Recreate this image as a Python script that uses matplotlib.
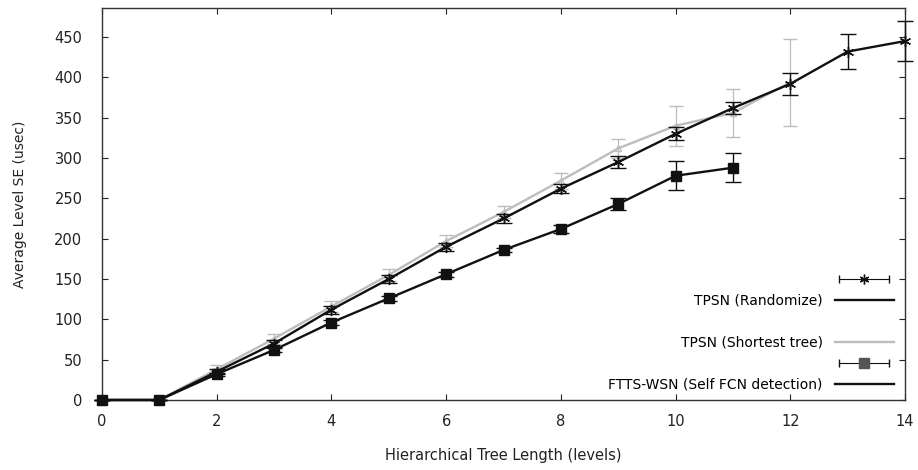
import matplotlib
matplotlib.use("Agg")
import matplotlib.pyplot as plt
import numpy as np
from matplotlib.lines import Line2D
from matplotlib.legend_handler import HandlerLine2D, HandlerTuple

plt.rcParams['font.family'] = ['DejaVu Sans']

# data
levels_rand = np.arange(0, 15)
rand_mean = [0, 0, 35, 70, 112, 150, 190, 225, 262, 295, 330, 362, 392, 432, 445]
rand_err = [0, 0, 3, 4, 5, 5, 5, 5, 6, 7, 8, 8, 14, 22, 25]

levels_short = np.arange(0, 13)
short_mean = [0, 0, 38, 76, 116, 155, 197, 233, 272, 312, 340, 356, 394]
short_err = [0, 0, 5, 6, 7, 7, 7, 7, 10, 12, 25, 30, 54]

levels_ftts = np.arange(0, 12)
ftts_mean = [0, 0, 32, 62, 96, 126, 156, 186, 212, 243, 278, 288]
ftts_err = [0, 0, 2, 2, 3, 3, 3, 3, 5, 8, 18, 18]

x_ticks = np.arange(0, 15, 2)
y_ticks = np.arange(0, 451, 50)

fig = plt.figure(figsize=(9.18, 4.70), dpi=100)
ax = fig.add_axes([0.111, 0.149, 0.875, 0.834])

gray = '#bdbdbd'
ax.errorbar(levels_short, short_mean, yerr=short_err, color=gray, lw=1.7,
            marker='^', ms=5, mfc='none', mec=gray, capsize=5, elinewidth=0.9,
            clip_on=False, zorder=2)
ax.errorbar(levels_rand, rand_mean, yerr=rand_err, color='#111111', lw=1.7,
            marker=(6, 2, 0), ms=8, mew=1.0, capsize=6, elinewidth=1.0,
            clip_on=False, zorder=3)
ax.errorbar(levels_ftts, ftts_mean, yerr=ftts_err, color='#111111', lw=1.7,
            marker='s', ms=7, capsize=6, elinewidth=1.0,
            clip_on=False, zorder=4)

ax.set_xlim(0, 14)
ax.set_ylim(0, 486)
ax.set_xticks(x_ticks)
ax.set_yticks(y_ticks)
ax.tick_params(direction='in', top=True, right=True, length=4, width=0.8,
               labelsize=10.5, colors='#222222')
ax.tick_params(axis='y', pad=14)
ax.tick_params(axis='x', pad=10)
for sp in ax.spines.values():
    sp.set_linewidth(1.0)
    sp.set_color('#333333')

ax.set_xlabel('Hierarchical Tree Length (levels)', fontsize=10.5, color='#222222', labelpad=14)
ax.set_ylabel('Average Level SE (usec)', fontsize=10, color='#222222', labelpad=20)

# legend in the gnuplot style of the original
cap_r = Line2D([], [], color='#111111', lw=0.8, marker='|', ms=6)
star_r = Line2D([], [], color='none', marker=(6, 2, 0), ms=7, mec='#111111', mew=1.0)
line_r = Line2D([], [], color='#111111', lw=1.7)
blank = Line2D([], [], color='none')
line_s = Line2D([], [], color=gray, lw=1.7)
cap_f = Line2D([], [], color='#111111', lw=0.8, marker='|', ms=6)
sq_f = Line2D([], [], color='none', marker='s', ms=7, mfc='#555555', mec='#555555')
line_f = Line2D([], [], color='#111111', lw=1.7)

handles = [(cap_r, star_r), line_r, blank, line_s, (cap_f, sq_f), line_f]
labels = ['', 'TPSN (Randomize)', '', 'TPSN (Shortest tree)', '', 'FTTS-WSN (Self FCN detection)']
ax.legend(handles, labels, loc='lower right', frameon=False, markerfirst=False,
          fontsize=10, handlelength=4.2, handletextpad=0.9, labelspacing=0.5,
          borderaxespad=0.2, bbox_to_anchor=(0.996, 0.0),
          handler_map={cap_r: HandlerLine2D(numpoints=2),
                       cap_f: HandlerLine2D(numpoints=2),
                       tuple: HandlerTuple(ndivide=1, pad=0)})

fig.savefig('out.png', dpi=100)
